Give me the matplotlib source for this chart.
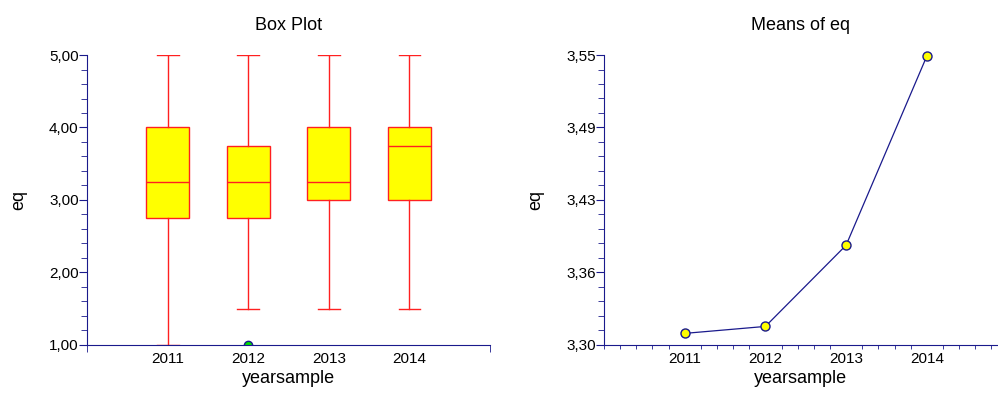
import numpy as np
import matplotlib.pyplot as plt
from matplotlib.ticker import FixedLocator, MultipleLocator, FuncFormatter

plt.rcParams['font.family'] = ['Liberation Sans', 'DejaVu Sans']

# box plot summaries per year
years = [2011, 2012, 2013, 2014]
whislo = [1.0, 1.5, 1.5, 1.5]
q1 = [2.75, 2.75, 3.0, 3.0]
med = [3.25, 3.25, 3.25, 3.75]
q3 = [4.0, 3.75, 4.0, 4.0]
whishi = [5.0, 5.0, 5.0, 5.0]
outliers = [[], [1.0], [], []]

# means of eq per year
means = [3.310, 3.316, 3.386, 3.549]

navy = '#1a1a8c'
red = '#ff2020'

fig = plt.figure(figsize=(9.98, 3.94), dpi=100)
ax1 = fig.add_axes([0.0872, 0.1244, 0.4038, 0.736])
ax2 = fig.add_axes([0.6052, 0.1244, 0.3938, 0.736])

def comma(v, pos):
    # round half up so 3.425 shows as 3,43
    return ('%.2f' % (v + 1e-9)).replace('.', ',')

for ax in (ax1, ax2):
    ax.spines['top'].set_visible(False)
    ax.spines['right'].set_visible(False)
    ax.spines['left'].set_color(navy)
    ax.spines['bottom'].set_color(navy)
    ax.tick_params(which='both', color=navy, labelsize=11, direction='out')
    ax.tick_params(axis='y', which='major', pad=0)
    ax.set_xlabel('yearsample', fontsize=13, labelpad=3)
    ax.set_ylabel('eq', fontsize=13, labelpad=16)

# box plot
stats = []
for i in range(len(years)):
    stats.append(dict(whislo=whislo[i], q1=q1[i], med=med[i], q3=q3[i],
                      whishi=whishi[i], fliers=outliers[i]))
ax1.bxp(stats, positions=years, widths=0.53, patch_artist=True,
        showfliers=True,
        boxprops=dict(facecolor='#ffff00', edgecolor=red, linewidth=1),
        medianprops=dict(color=red, linewidth=1),
        whiskerprops=dict(color=red, linewidth=1),
        capprops=dict(color=red, linewidth=1),
        capwidths=0.27,
        flierprops=dict(marker='o', markerfacecolor='#00e000',
                        markeredgecolor=navy, markersize=6))
ax1.set_xlim(2010, 2015)
ax1.set_ylim(1, 5)
ax1.set_xticks(years)
ax1.set_xticklabels([str(y) for y in years])
ax1.tick_params(axis='x', which='major', length=0, pad=5)
ax1.xaxis.set_minor_locator(FixedLocator([2010, 2015]))
ax1.tick_params(axis='x', which='minor', length=5)
ax1.yaxis.set_major_locator(MultipleLocator(1))
ax1.yaxis.set_minor_locator(MultipleLocator(0.2))
ax1.yaxis.set_major_formatter(FuncFormatter(comma))
ax1.tick_params(axis='y', which='major', length=6)
ax1.tick_params(axis='y', which='minor', length=4)
ax1.set_title('Box Plot', fontsize=13, pad=18)

# means line
ax2.plot(years, means, color=navy, linewidth=0.9, marker='o',
         markersize=6.5, markerfacecolor='#ffff00', markeredgecolor=navy,
         clip_on=False)
ax2.set_xlim(2010, 2014.87)
ax2.set_ylim(3.30, 3.55)
ax2.set_xticks(years)
ax2.set_xticklabels([str(y) for y in years])
ax2.tick_params(axis='x', which='major', length=0, pad=5)
ax2.xaxis.set_minor_locator(MultipleLocator(0.2))
ax2.tick_params(axis='x', which='minor', length=3)
ax2.yaxis.set_major_locator(FixedLocator(np.linspace(3.30, 3.55, 5)))
ax2.yaxis.set_minor_locator(MultipleLocator(0.0125))
ax2.yaxis.set_major_formatter(FuncFormatter(comma))
ax2.tick_params(axis='y', which='major', length=6)
ax2.tick_params(axis='y', which='minor', length=4)
ax2.set_title('Means of eq', fontsize=13, pad=18)

fig.savefig('out.png', dpi=100)
